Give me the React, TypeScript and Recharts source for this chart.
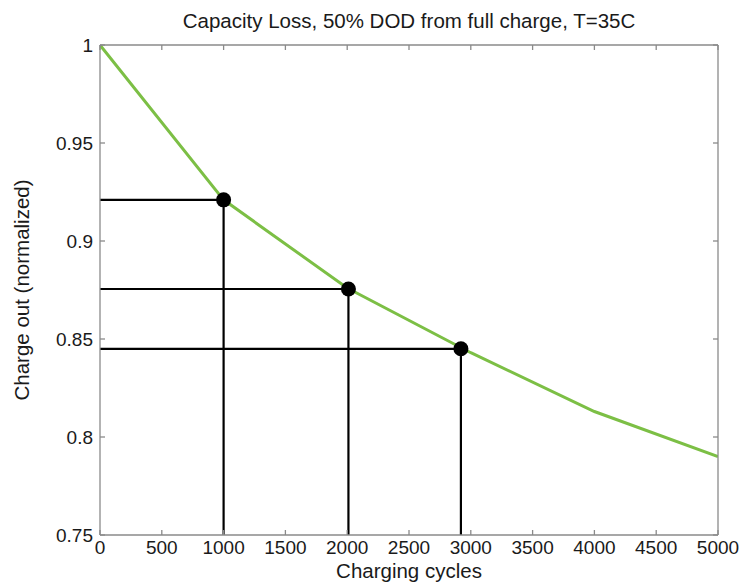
import React from "react";
import { ComposedChart, Line, Scatter, XAxis, YAxis, ReferenceLine, Label } from "recharts";

// capacity curve (straight segments between these points)
const cycles = [0, 1000, 2000, 3000, 4000, 5000];
const chargeOut = [1, 0.921, 0.876, 0.843, 0.813, 0.79];

// highlighted points with guide lines
const markCycles = [1000, 2010, 2920];
const markCharge = [0.921, 0.8755, 0.845];

const xTicks = [0, 500, 1000, 1500, 2000, 2500, 3000, 3500, 4000, 4500, 5000];
const yTicks = [0.75, 0.8, 0.85, 0.9, 0.95, 1];

const GREEN = "#7cbf45";
const AXIS = "#8a8a8a";
const FONT = "'Liberation Sans', Arial, sans-serif";

const curve = cycles.map((c, i) => ({ cycles: c, charge: chargeOut[i] }));
const marks = markCycles.map((c, i) => ({ cycles: c, charge: markCharge[i] }));

const tickStyle = { fontSize: 19, fill: "#1a1a1a", fontFamily: FONT };
const labelStyle = { fontSize: 20.5, fill: "#1a1a1a", fontFamily: FONT };

export default function App() {
  return (
    <div style={{ position: "absolute", left: 0, top: 0, background: "#fff" }}>
      <ComposedChart
        width={741}
        height={583}
        data={curve}
        margin={{ top: 44, right: 22, bottom: 0, left: 0 }}
        style={{ fontFamily: FONT }}
      >
        <XAxis
          dataKey="cycles"
          type="number"
          domain={[0, 5000]}
          ticks={xTicks}
          allowDataOverflow
          height={48}
          stroke={AXIS}
          strokeWidth={1.3}
          tickSize={-5}
          tickMargin={11}
          tick={tickStyle}
        >
          <Label value="Charging cycles" position="insideBottom" offset={5} style={labelStyle} />
        </XAxis>
        <XAxis
          xAxisId="top"
          orientation="top"
          dataKey="cycles"
          type="number"
          domain={[0, 5000]}
          ticks={xTicks}
          allowDataOverflow
          height={1}
          stroke={AXIS}
          strokeWidth={1.3}
          tickSize={-5}
          tickFormatter={() => ""}
        >
          <Label
            value="Capacity Loss, 50% DOD from full charge, T=35C"
            position="top"
            offset={16}
            style={labelStyle}
          />
        </XAxis>
        <YAxis
          type="number"
          domain={[0.75, 1]}
          ticks={yTicks}
          allowDataOverflow
          width={100}
          stroke={AXIS}
          strokeWidth={1.3}
          tickSize={-5}
          tickMargin={12}
          tick={tickStyle}
        >
          <Label
            value="Charge out (normalized)"
            angle={-90}
            position="insideLeft"
            offset={22}
            style={{ ...labelStyle, textAnchor: "middle" }}
          />
        </YAxis>
        <YAxis
          yAxisId="right"
          orientation="right"
          type="number"
          domain={[0.75, 1]}
          ticks={yTicks}
          allowDataOverflow
          width={1}
          stroke={AXIS}
          strokeWidth={1.3}
          tickSize={-5}
          tickFormatter={() => ""}
        />
        {markCycles.map((c, i) => (
          <ReferenceLine
            key={`h-${i}`}
            segment={[
              { x: 0, y: markCharge[i] },
              { x: c, y: markCharge[i] },
            ]}
            stroke="#000"
            strokeWidth={2.2}
          />
        ))}
        {markCycles.map((c, i) => (
          <ReferenceLine
            key={`v-${i}`}
            segment={[
              { x: c, y: 0.75 },
              { x: c, y: markCharge[i] },
            ]}
            stroke="#000"
            strokeWidth={2.2}
          />
        ))}
        <Line
          dataKey="charge"
          type="linear"
          stroke={GREEN}
          strokeWidth={3}
          dot={false}
          isAnimationActive={false}
        />
        <Scatter
          data={marks}
          dataKey="charge"
          isAnimationActive={false}
          shape={(p: any) => <circle cx={p.cx} cy={p.cy} r={7.5} fill="#000" />}
        />
      </ComposedChart>
    </div>
  );
}
